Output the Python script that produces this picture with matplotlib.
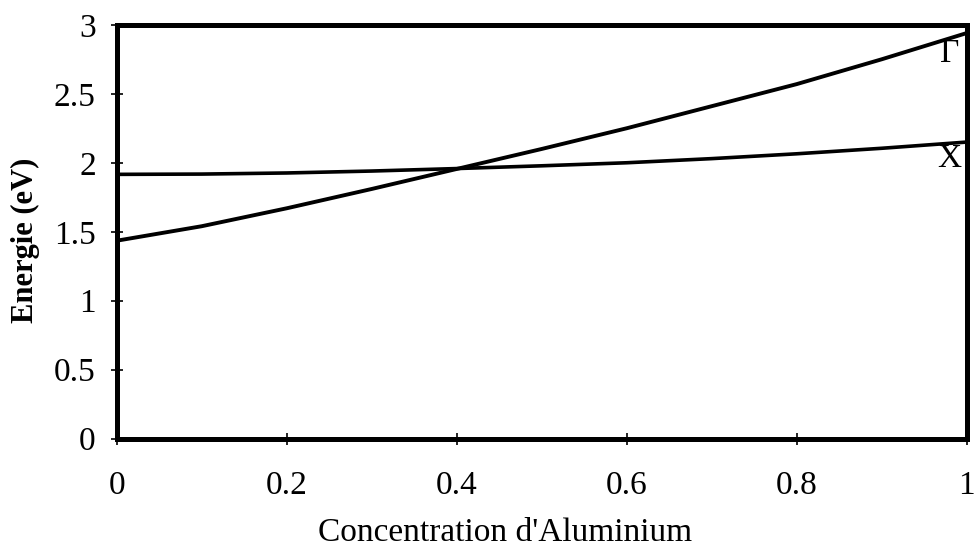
import matplotlib
matplotlib.use('Agg')
import matplotlib.pyplot as plt

# Al concentration and band energies (eV)
conc = [0.0, 0.1, 0.2, 0.3, 0.4, 0.5, 0.6, 0.7, 0.8, 0.9, 1.0]
e_gamma = [1.435, 1.54, 1.67, 1.81, 1.955, 2.10, 2.25, 2.41, 2.57, 2.75, 2.94]
e_x = [1.916, 1.918, 1.926, 1.94, 1.958, 1.978, 2.0, 2.03, 2.065, 2.105, 2.15]

x_ticks = [0, 0.2, 0.4, 0.6, 0.8, 1]
x_labels = ['0', '0.2', '0.4', '0.6', '0.8', '1']
y_ticks = [0, 0.5, 1, 1.5, 2, 2.5, 3]
y_labels = ['0', '0.5', '1', '1.5', '2', '2.5', '3']

plt.rcParams['font.family'] = ['Liberation Serif', 'DejaVu Serif']

fig = plt.figure(figsize=(9.74, 5.51), dpi=100)
ax = fig.add_axes([0.1198, 0.2038, 0.8727, 0.7512])

ax.plot(conc, e_gamma, color='black', lw=2.8)
ax.plot(conc, e_x, color='black', lw=2.6)

ax.set_xlim(0, 1)
ax.set_ylim(0, 3)
ax.set_xticks(x_ticks)
ax.set_xticklabels(x_labels)
ax.set_yticks(y_ticks)
ax.set_yticklabels(y_labels)
ax.tick_params(axis='both', direction='inout', length=8, width=1.2,
               labelsize=24, colors='black')
ax.tick_params(axis='x', pad=19)
ax.tick_params(axis='y', pad=11)
for s in ax.spines.values():
    s.set_linewidth(3.6)

ax.text(0.98, 2.79, '\u0393', fontsize=24, ha='center', va='center')
ax.text(0.98, 2.03, 'X', fontsize=24, ha='center', va='center')

ax.set_xlabel("Concentration d'Aluminium", fontsize=24, labelpad=12)
ax.xaxis.label.set_x(0.457)
ax.set_ylabel('Energie (eV)', fontsize=22, fontweight='bold')
ax.yaxis.set_label_coords(-0.09, 0.48)

fig.savefig('out.png', dpi=100)
